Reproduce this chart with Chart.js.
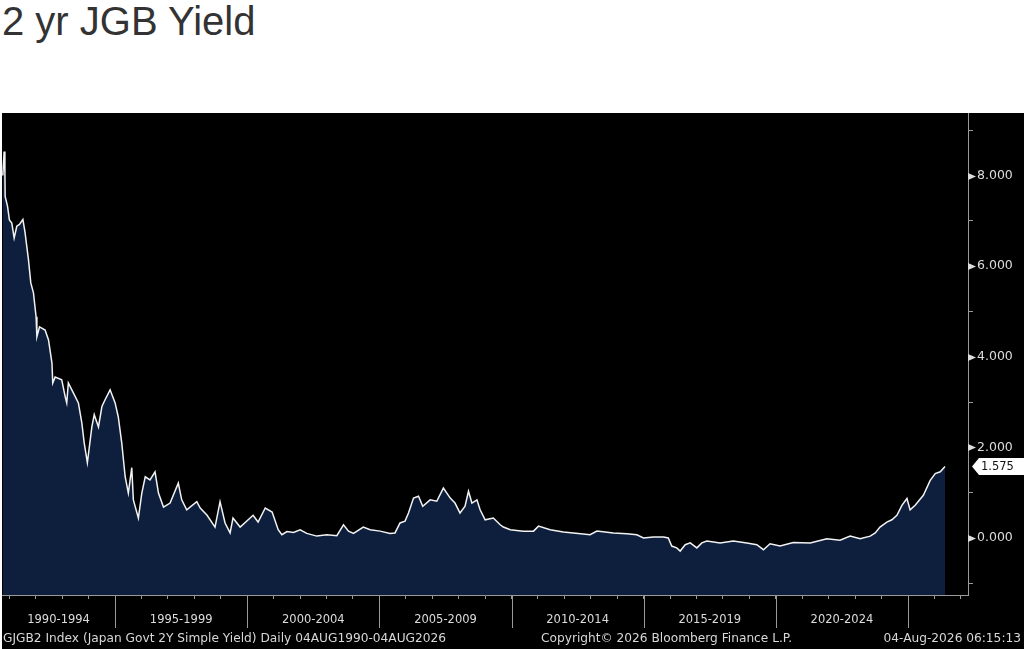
<!DOCTYPE html>
<html>
<head>
<meta charset="utf-8">
<title>2 yr JGB Yield</title>
<script src="https://cdn.jsdelivr.net/npm/chart.js@4/dist/chart.umd.min.js"></script>
<style>
  html, body { margin: 0; padding: 0; background: #fff; }
  body { width: 1024px; height: 649px; position: relative; overflow: hidden; }
  #title {
    position: absolute; left: 2px; top: 1px; margin: 0;
    font: 400 40px/40px "Liberation Sans", Arial, sans-serif; color: #333;
  }
  #panel {
    position: absolute; left: 2px; top: 113px; width: 1022px; height: 536px; background: #000;
  }
  #chartWrap { position: absolute; left: 0; top: 0; width: 1022px; height: 536px; }
  .foot {
    position: absolute; top: 518px; font: 12.2px/14px "DejaVu Sans", Tahoma, sans-serif;
    color: #d8d8d8; white-space: nowrap;
  }
</style>
</head>
<body>
<h1 id="title">2 yr JGB Yield</h1>
<div id="panel">
  <div id="chartWrap"><canvas id="jgbChart"></canvas></div>
  <div class="foot" style="left:1px">GJGB2 Index (Japan Govt 2Y Simple Yield) Daily 04AUG1990-04AUG2026</div>
  <div class="foot" style="left:539px">Copyright&copy; 2026 Bloomberg Finance L.P.</div>
  <div class="foot" style="right:3px">04-Aug-2026 06:15:13</div>
</div>
<script>
const yearPos = [
  1990.75, 1990.80, 1990.83, 1990.84, 1990.93, 1991.00, 1991.09, 1991.18, 1991.28, 1991.38,
  1991.51, 1991.59, 1991.72, 1991.81, 1991.91, 1992.01, 1992.04, 1992.14, 1992.35, 1992.48,
  1992.61, 1992.64, 1992.73, 1992.98, 1993.11, 1993.17, 1993.23, 1993.42, 1993.61, 1993.74,
  1993.83, 1993.95, 1994.12, 1994.21, 1994.37, 1994.50, 1994.62, 1994.81, 1995.00, 1995.12,
  1995.25, 1995.38, 1995.50, 1995.63, 1995.69, 1995.88, 1996.01, 1996.14, 1996.32, 1996.51,
  1996.64, 1996.83, 1997.08, 1997.39, 1997.52, 1997.71, 1998.09, 1998.22, 1998.48, 1998.78,
  1998.97, 1999.16, 1999.35, 1999.46, 1999.73, 2000.22, 2000.41, 2000.68, 2000.94, 2001.17,
  2001.31, 2001.50, 2001.75, 2002.00, 2002.25, 2002.63, 2003.01, 2003.39, 2003.64, 2003.83,
  2004.02, 2004.39, 2004.65, 2005.03, 2005.40, 2005.59, 2005.78, 2005.97, 2006.10, 2006.29,
  2006.48, 2006.64, 2006.92, 2007.17, 2007.42, 2007.68, 2007.86, 2008.05, 2008.24, 2008.37,
  2008.50, 2008.69, 2008.81, 2009.00, 2009.31, 2009.57, 2009.69, 2009.95, 2010.45, 2010.83,
  2011.02, 2011.46, 2011.96, 2012.34, 2012.97, 2013.23, 2013.85, 2014.36, 2014.74, 2014.99,
  2015.37, 2015.75, 2015.93, 2016.06, 2016.25, 2016.38, 2016.57, 2016.76, 2017.01, 2017.20,
  2017.39, 2017.89, 2018.39, 2018.90, 2019.28, 2019.53, 2019.78, 2020.16, 2020.66, 2021.30,
  2021.93, 2022.43, 2022.81, 2023.19, 2023.57, 2023.76, 2023.94, 2024.20, 2024.39, 2024.58,
  2024.77, 2024.96, 2025.08, 2025.27, 2025.58, 2025.84, 2026.03, 2026.22, 2026.40
];

const yieldPct = [
  8.0, 8.53, 8.06, 7.54, 7.32, 7.02, 6.95, 6.62, 6.88, 6.92,
  7.03, 6.75, 6.15, 5.63, 5.41, 4.88, 4.44, 4.66, 4.59, 4.37,
  3.86, 3.42, 3.55, 3.49, 3.12, 2.98, 3.42, 3.2, 2.98, 2.54,
  2.1, 1.66, 2.45, 2.72, 2.45, 2.9, 3.05, 3.27, 2.98, 2.67,
  2.1, 1.35, 0.99, 1.55, 0.84, 0.44, 0.99, 1.35, 1.28, 1.46,
  0.99, 0.68, 0.77, 1.21, 0.84, 0.62, 0.8, 0.66, 0.5, 0.24,
  0.8, 0.33, 0.11, 0.44, 0.24, 0.5, 0.35, 0.66, 0.57, 0.18,
  0.07, 0.14, 0.12, 0.18, 0.1, 0.04, 0.07, 0.05, 0.29, 0.15,
  0.1, 0.24, 0.18, 0.15, 0.1, 0.11, 0.33, 0.37, 0.55, 0.88,
  0.92, 0.7, 0.84, 0.81, 1.1, 0.88, 0.77, 0.55, 0.7, 1.03,
  0.77, 0.84, 0.62, 0.4, 0.44, 0.29, 0.24, 0.18, 0.15, 0.15,
  0.26, 0.18, 0.13, 0.11, 0.07, 0.15, 0.11, 0.09, 0.07, 0.0,
  0.02, 0.02, 0.0, -0.18, -0.22, -0.29, -0.15, -0.11, -0.22, -0.11,
  -0.07, -0.11, -0.07, -0.11, -0.15, -0.26, -0.13, -0.18, -0.1, -0.11,
  -0.02, -0.05, 0.04, -0.02, 0.04, 0.11, 0.24, 0.35, 0.4, 0.5,
  0.72, 0.87, 0.62, 0.72, 0.94, 1.27, 1.42, 1.46, 1.575
];

const periodStarts = [1990, 1995, 2000, 2005, 2010, 2015, 2020, 2025];
const periodLabels = ['1990-1994', '1995-1999', '2000-2004', '2005-2009', '2010-2014', '2015-2019', '2020-2024', ''];
const yearTicks = [1991, 1992, 1993, 1994, 1995, 1996, 1997, 1998, 1999, 2000, 2001, 2002, 2003, 2004, 2005,
  2006, 2007, 2008, 2009, 2010, 2011, 2012, 2013, 2014, 2015, 2016, 2017, 2018, 2019, 2020, 2021, 2022,
  2023, 2024, 2025, 2026, 2027];
const yTickValues = [-1, 0, 1, 2, 3, 4, 5, 6, 7, 8, 9];

const X_MIN = 1990.72;
const X_MAX = 2027.27;
const AXIS_GREY = '#9a9a9a';
const LABEL_GREY = '#dcdcdc';
const LABEL_FONT = '"DejaVu Sans", Tahoma, sans-serif';

const decor = {
  id: 'bbgDecor',
  afterDraw(chart) {
    const { ctx, chartArea, scales } = chart;
    const xs = scales.x;
    const ys = scales.y;
    ctx.save();

    // arrow heads on the labelled y ticks
    ctx.fillStyle = LABEL_GREY;
    yTickValues.filter((v) => v % 2 === 0).forEach((v) => {
      const y = Math.round(ys.getPixelForValue(v)) + 0.5;
      ctx.beginPath();
      ctx.moveTo(chartArea.right, y - 3.5);
      ctx.lineTo(chartArea.right + 8, y);
      ctx.lineTo(chartArea.right, y + 3.5);
      ctx.closePath();
      ctx.fill();
    });

    // period separators + labels under the x axis
    ctx.strokeStyle = AXIS_GREY;
    ctx.lineWidth = 1;
    ctx.font = `11.5px ${LABEL_FONT}`;
    ctx.fillStyle = LABEL_GREY;
    ctx.textAlign = 'center';
    ctx.textBaseline = 'alphabetic';
    periodStarts.forEach((start, i) => {
      if (start > X_MIN) {
        const x = Math.round(xs.getPixelForValue(start)) + 0.5;
        ctx.beginPath();
        ctx.moveTo(x, chartArea.bottom);
        ctx.lineTo(x, chartArea.bottom + 33);
        ctx.stroke();
      }
      if (!periodLabels[i]) return;
      const a = xs.getPixelForValue(Math.max(start, X_MIN));
      const b = xs.getPixelForValue(Math.min(start + 5, X_MAX));
      ctx.fillText(periodLabels[i], (a + b) / 2, chartArea.bottom + 28);
    });

    // last value tag
    const last = yieldPct[yieldPct.length - 1];
    const ty = ys.getPixelForValue(last);
    const left = chartArea.right + 4;
    ctx.fillStyle = '#ffffff';
    ctx.beginPath();
    ctx.moveTo(left, ty);
    ctx.lineTo(left + 7, ty - 8.5);
    ctx.lineTo(chart.width, ty - 8.5);
    ctx.lineTo(chart.width, ty + 8.5);
    ctx.lineTo(left + 7, ty + 8.5);
    ctx.closePath();
    ctx.fill();
    ctx.fillStyle = '#111';
    ctx.font = `11.5px ${LABEL_FONT}`;
    ctx.textAlign = 'left';
    ctx.textBaseline = 'middle';
    ctx.fillText(last.toFixed(3), left + 9, ty + 0.5);

    ctx.restore();
  },
};

function buildChart() {
  const canvas = document.getElementById('jgbChart');
  const points = yearPos.map((x, i) => ({ x, y: yieldPct[i] }));

  return new Chart(canvas, {
    type: 'line',
    data: {
      datasets: [
        {
          label: 'GJGB2 Index',
          data: points,
          borderColor: '#f2f2f2',
          borderWidth: 1.5,
          backgroundColor: '#0d1f3c',
          fill: 'start',
          pointRadius: 0,
          tension: 0,
        },
      ],
    },
    options: {
      responsive: true,
      maintainAspectRatio: false,
      animation: false,
      layout: { padding: 0 },
      plugins: {
        legend: { display: false },
        tooltip: { enabled: false },
      },
      scales: {
        x: {
          type: 'linear',
          position: 'bottom',
          min: X_MIN,
          max: X_MAX,
          afterBuildTicks: (scale) => { scale.ticks = yearTicks.map((v) => ({ value: v })); },
          afterFit: (scale) => {
            scale.height = 54;
            scale.paddingLeft = 0;
            scale.paddingRight = 0;
          },
          ticks: { display: false },
          grid: { drawOnChartArea: false, drawTicks: true, tickLength: 4, color: AXIS_GREY },
          border: { color: AXIS_GREY, width: 1 },
        },
        y: {
          position: 'right',
          min: -1.26,
          max: 9.38,
          afterBuildTicks: (scale) => { scale.ticks = yTickValues.map((v) => ({ value: v })); },
          afterFit: (scale) => {
            scale.width = 56;
            scale.paddingTop = 0;
            scale.paddingBottom = 0;
          },
          ticks: {
            color: LABEL_GREY,
            padding: 4,
            font: { family: LABEL_FONT, size: 12.5 },
            callback: (v) => (v % 2 === 0 ? Number(v).toFixed(3) : ''),
          },
          grid: { drawOnChartArea: false, drawTicks: true, tickLength: 5, color: AXIS_GREY },
          border: { color: AXIS_GREY, width: 1 },
        },
      },
    },
    plugins: [decor],
  });
}

buildChart();
</script>
</body>
</html>
